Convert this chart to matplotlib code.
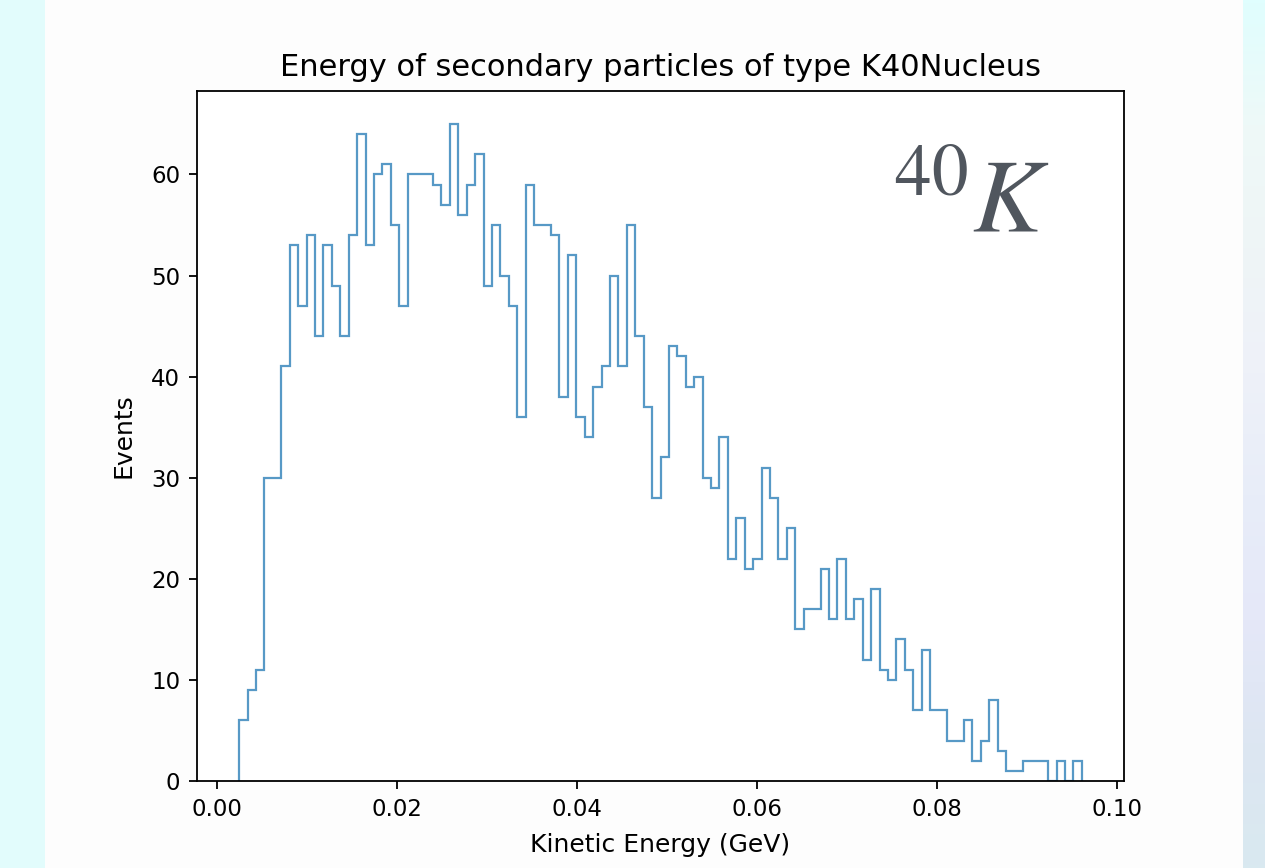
import numpy as np
import matplotlib
matplotlib.use("Agg")
import matplotlib.pyplot as plt
from matplotlib.patches import Rectangle
from matplotlib.colors import LinearSegmentedColormap

# Histogram counts per bin (100 bins of kinetic energy)
counts = [6, 9, 11, 30, 30, 41, 53, 47, 54, 44,
          53, 49, 44, 54, 64, 53, 60, 61, 55, 47,
          60, 60, 60, 59, 57, 65, 56, 59, 62, 49,
          55, 50, 47, 36, 59, 55, 55, 54, 38, 52,
          36, 34, 39, 41, 50, 41, 55, 44, 37, 28,
          32, 43, 42, 39, 40, 30, 29, 34, 22, 26,
          21, 22, 31, 28, 22, 25, 15, 17, 17, 21,
          16, 22, 16, 18, 12, 19, 11, 10, 14, 11,
          7, 13, 7, 7, 4, 4, 6, 2, 4, 8,
          3, 1, 1, 2, 2, 2, 0, 2, 0, 2]
e_min = 0.00248   # GeV, lowest secondary energy
e_max = 0.09608   # GeV, highest secondary energy
x_ticks = [0.00, 0.02, 0.04, 0.06, 0.08, 0.10]
y_ticks = [0, 10, 20, 30, 40, 50, 60]

edges = np.linspace(e_min, e_max, len(counts) + 1)
centers = 0.5 * (edges[:-1] + edges[1:])

W, H = 1265, 868
fig = plt.figure(figsize=(W / 100, H / 100), dpi=100, facecolor="#e2fcfc")

# white page behind the plot
fig.patches.append(Rectangle((45 / W, 0), (1243 - 45) / W, 1, transform=fig.transFigure,
                             facecolor="#fdfdfd", edgecolor="none", zorder=-10))

# soft gradient strip on the right edge
strip = fig.add_axes([1243 / W, 0, (W - 1243) / W, 1])
cmap = LinearSegmentedColormap.from_list(
    "edge", ["#e0fefe", "#eef9f8", "#eef5f6", "#eef1f9", "#e8edf8", "#e5e8f8", "#dde6f2", "#d9e9f0"])
strip.imshow(np.linspace(0, 1, 256).reshape(-1, 1), aspect="auto", cmap=cmap)
strip.axis("off")

ax = fig.add_axes([197 / W, 1 - 781 / H, (1124 - 197) / W, (781 - 91) / H])
ax.set_zorder(5)
ax.hist(centers, bins=edges, weights=counts, histtype="step",
        color="#1f77b4", alpha=0.75, linewidth=1.6)

ax.set_xticks(x_ticks)
ax.set_xticklabels([f"{t:.2f}" for t in x_ticks])
ax.set_yticks(y_ticks)
ax.set_ylim(0, max(counts) * 1.05)
ax.set_xlim(e_min - 0.05 * (e_max - e_min), e_max + 0.05 * (e_max - e_min))
ax.tick_params(labelsize=16.5, length=6, width=1.3, pad=6)
for s in ax.spines.values():
    s.set_linewidth(1.3)

ax.set_title("Energy of secondary particles of type K40Nucleus", fontsize=22, pad=11)
ax.set_xlabel("Kinetic Energy (GeV)", fontsize=18, labelpad=9)
ax.set_ylabel("Events", fontsize=18, labelpad=11)

# isotope label
plt.rcParams["mathtext.fontset"] = "stix"
fig.text(893 / W, 1 - 232 / H, r"$^{40}K$", fontsize=75, color="#50565e",
         ha="left", va="baseline", zorder=10)

fig.savefig("out.png", dpi=100, facecolor=fig.get_facecolor())
